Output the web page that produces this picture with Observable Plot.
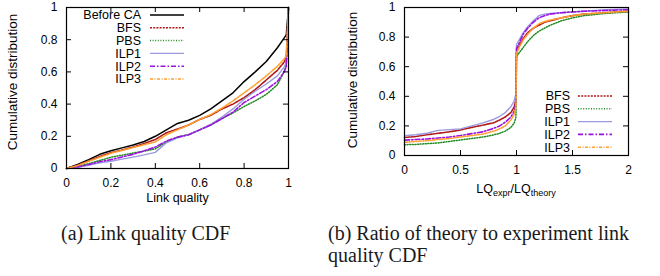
<!DOCTYPE html>
<html><head><meta charset="utf-8">
<script src="https://cdn.jsdelivr.net/npm/d3@7"></script>
<script src="https://cdn.jsdelivr.net/npm/@observablehq/plot@0.6"></script>
<style>
body{margin:0;background:#fff;}
#wrap{position:relative;width:660px;height:276px;overflow:hidden;font-family:"Liberation Sans",Arial,sans-serif;}
.panel{position:absolute;top:0;}
.cap{position:absolute;font-family:"Liberation Serif","Times New Roman",serif;font-size:20px;color:#1a1a1a;line-height:22px;white-space:nowrap;}
.xt{position:absolute;font-size:12.5px;white-space:nowrap;transform:translate(-50%,-50%);}
.xt sub{font-size:9px;vertical-align:-3px;line-height:0;}
</style></head><body><div id="wrap"></div>
<script>
// ---------- Panel (a): Link quality CDF ----------
const xsA = [0,0.05,0.1,0.15,0.2,0.25,0.3,0.35,0.4,0.45,0.5,0.55,0.6,0.65,0.7,0.75,0.8,0.85,0.9,0.95,0.98,0.99,1];
const beforeCA_A = [0,0.025,0.055,0.088,0.11,0.128,0.146,0.168,0.2,0.24,0.28,0.3,0.33,0.37,0.42,0.47,0.54,0.6,0.665,0.75,0.81,0.83,1];
const bfsA  = [0,0.02,0.048,0.075,0.098,0.115,0.133,0.155,0.18,0.222,0.245,0.27,0.305,0.33,0.37,0.4,0.44,0.49,0.55,0.61,0.66,0.69,1];
const pbsA  = [0,0.012,0.03,0.05,0.07,0.083,0.096,0.108,0.122,0.165,0.195,0.21,0.24,0.27,0.31,0.345,0.385,0.42,0.46,0.52,0.6,0.64,1];
const ilp1A = [0,0.008,0.02,0.035,0.045,0.058,0.071,0.085,0.1,0.16,0.19,0.21,0.24,0.275,0.32,0.37,0.43,0.48,0.525,0.575,0.63,0.66,1];
const ilp2A = [0,0.01,0.025,0.042,0.055,0.072,0.088,0.11,0.133,0.17,0.195,0.21,0.24,0.27,0.31,0.35,0.41,0.45,0.49,0.54,0.6,0.63,1];
const ilp3A = [0,0.018,0.045,0.07,0.095,0.112,0.13,0.148,0.165,0.21,0.24,0.27,0.305,0.335,0.375,0.42,0.47,0.52,0.575,0.635,0.68,0.7,1];
const xTicksA = [0,0.2,0.4,0.6,0.8,1];
const yTicks = [0,0.2,0.4,0.6,0.8,1];

// ---------- Panel (b): Ratio CDF ----------
const xsB = [0,0.1,0.2,0.3,0.4,0.5,0.6,0.7,0.8,0.85,0.9,0.95,0.98,0.995,1.0,1.03,1.06,1.1,1.15,1.2,1.25,1.3,1.4,1.5,1.6,1.8,2];
const bfsB  = [0.122,0.128,0.14,0.15,0.16,0.172,0.19,0.205,0.222,0.24,0.26,0.29,0.33,0.38,0.70,0.75,0.79,0.83,0.86,0.88,0.9,0.91,0.93,0.945,0.955,0.965,0.975];
const pbsB  = [0.073,0.075,0.08,0.085,0.095,0.105,0.115,0.125,0.14,0.15,0.165,0.19,0.22,0.26,0.67,0.7,0.73,0.77,0.81,0.84,0.86,0.88,0.91,0.93,0.945,0.96,0.97];
const ilp1B = [0.133,0.14,0.15,0.17,0.175,0.18,0.2,0.22,0.245,0.265,0.29,0.33,0.37,0.42,0.75,0.79,0.83,0.87,0.91,0.945,0.955,0.96,0.965,0.97,0.975,0.985,0.99];
const ilp2B = [0.104,0.108,0.112,0.118,0.125,0.135,0.148,0.16,0.185,0.2,0.225,0.26,0.3,0.36,0.72,0.77,0.82,0.86,0.9,0.93,0.945,0.955,0.965,0.97,0.975,0.98,0.985];
const ilp3B = [0.089,0.095,0.1,0.108,0.115,0.125,0.135,0.145,0.165,0.18,0.2,0.24,0.28,0.33,0.69,0.74,0.78,0.82,0.86,0.89,0.905,0.915,0.93,0.945,0.955,0.965,0.975];
const xTicksB = [0,0.5,1,1.5,2];

// ---------- Series styles ----------
const styles = {
  "Before CA": {stroke:"#000000", dash:null, width:1.5},
  "BFS":  {stroke:"#b01818", dash:"2,1.2", width:1.6},
  "PBS":  {stroke:"#1e8c1e", dash:"1,1.6", width:1.5},
  "ILP1": {stroke:"#9a9ae0", dash:null, width:1.4},
  "ILP2": {stroke:"#9b12e0", dash:"5,2,1.5,2", width:1.6},
  "ILP3": {stroke:"#ffa030", dash:"3,1.5,1,1.5", width:1.6}
};
const seriesA = [["Before CA", beforeCA_A],["BFS", bfsA],["PBS", pbsA],["ILP1", ilp1A],["ILP2", ilp2A],["ILP3", ilp3A]];
const seriesB = [["BFS", bfsB],["PBS", pbsB],["ILP1", ilp1B],["ILP2", ilp2B],["ILP3", ilp3B]];
const yTitle = "Cumulative distribution";

const wrap = document.getElementById("wrap");
const font = '"Liberation Sans", Arial, sans-serif';

function panel({xs, series, xTicks, xDomain, width, height, mt, mr, mb, ml, xTitle}) {
  const fh = height - mt - mb, fw = width - ml - mr;
  const marks = [];
  for (const [name, vals] of series) {
    const st = styles[name];
    const rows = xs.map((x, i) => ({x, y: vals[i]}));
    marks.push(Plot.line(rows, {x:"x", y:"y", stroke: st.stroke, strokeWidth: st.width, strokeDasharray: st.dash}));
  }
  marks.push(
    Plot.tickX(xTicks, {x: d => d, insetTop: fh - 5, stroke:"#000"}),
    Plot.tickX(xTicks, {x: d => d, insetBottom: fh - 5, stroke:"#000"}),
    Plot.tickY(yTicks, {y: d => d, insetRight: fw - 5, stroke:"#000"}),
    Plot.tickY(yTicks, {y: d => d, insetLeft: fw - 5, stroke:"#000"}),
    Plot.frame({stroke:"#000", strokeWidth:1.2}),
    Plot.axisX(xTicks, {anchor:"bottom", tickSize:0, tickPadding:10, label:null, tickFormat: d => String(d), fontSize:12}),
    Plot.axisY(yTicks, {anchor:"left", tickSize:0, tickPadding:9, label:null, tickFormat: d => String(d), fontSize:12})
  );
  if (xTitle) marks.push(Plot.text([xTitle], {frameAnchor:"bottom", dy:33, text: d => d, fontSize:12.5}));
  return Plot.plot({
    width, height, marginTop: mt, marginRight: mr, marginBottom: mb, marginLeft: ml,
    x: {domain: xDomain, axis: null},
    y: {domain: [0, 1], axis: null},
    style: {fontFamily: font, fontSize: "12px", color: "#000", background: "transparent"},
    marks
  });
}

const pa = panel({xs: xsA, series: seriesA, xTicks: xTicksA, xDomain:[0,1], width:300, height:210, mt:7, mr:12, mb:42, ml:66, xTitle:"Link quality"});
pa.classList.add("panel"); pa.style.left = "0px";
wrap.appendChild(pa);

const pb = panel({xs: xsB, series: seriesB, xTicks: xTicksB, xDomain:[0,2], width:330, height:210, mt:7, mr:32, mb:55, ml:74, xTitle:null});
pb.classList.add("panel"); pb.style.left = "330px";
wrap.appendChild(pb);

// x title with subscripts for panel (b)
const xt = document.createElement("div");
xt.className = "xt";
xt.style.left = "516px"; xt.style.top = "189px";
xt.innerHTML = "LQ<sub>expr</sub>/LQ<sub>theory</sub>";
wrap.appendChild(xt);

// overlay: y titles and legends
const ov = d3.select(wrap).append("svg").attr("width",660).attr("height",276)
  .style("position","absolute").style("left",0).style("top",0).style("pointer-events","none");
[[12, 82], [352, 80]].forEach(([x, y]) => {
  ov.append("text").attr("transform", `translate(${x},${y}) rotate(-90)`).attr("dy","0.35em")
    .attr("text-anchor","middle").attr("font-family", font).attr("font-size", 13.5).text(yTitle);
});
function legend(series, textRight, lx1, lx2, y0, step) {
  series.forEach(([name], i) => {
    const st = styles[name], y = y0 + i*step;
    ov.append("text").attr("x", textRight).attr("y", y).attr("dy","0.35em")
      .attr("text-anchor","end").attr("font-family", font).attr("font-size", 12.5).text(name);
    ov.append("line").attr("x1", lx1).attr("x2", lx2).attr("y1", y).attr("y2", y)
      .attr("stroke", st.stroke).attr("stroke-width", st.width).attr("stroke-dasharray", st.dash);
  });
}
legend(seriesA, 141, 150, 184, 15, 12.8);
legend(seriesB, 570, 578, 612, 96, 12.8);

// captions
const c1 = document.createElement("div"); c1.className = "cap";
c1.style.left = "61px"; c1.style.top = "222px"; c1.textContent = "(a) Link quality CDF";
wrap.appendChild(c1);
const c2 = document.createElement("div"); c2.className = "cap";
c2.style.left = "328px"; c2.style.top = "222px";
c2.innerHTML = "(b) Ratio of theory to experiment link<br>quality CDF";
wrap.appendChild(c2);
</script>
</body></html>
